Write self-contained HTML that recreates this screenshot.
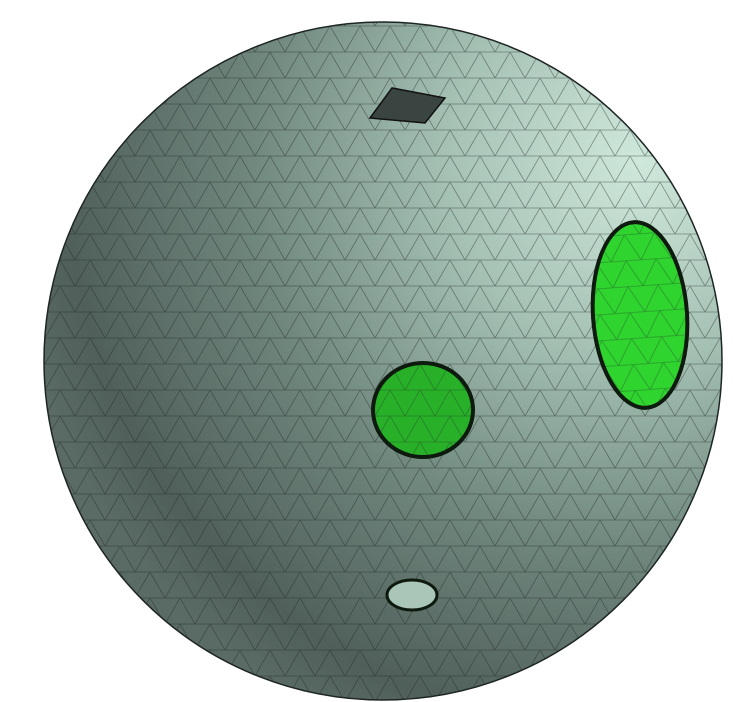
<!DOCTYPE html>
<html><head><meta charset="utf-8"><style>
html,body{margin:0;padding:0;background:#fff;width:745px;height:702px;overflow:hidden}
</style></head><body>
<svg width="745" height="702" viewBox="0 0 745 702">
<defs>
<radialGradient id="g" cx="640" cy="160" r="640" gradientUnits="userSpaceOnUse">
<stop offset="0" stop-color="#cfe8dc"/>
<stop offset="0.3" stop-color="#a6c2b5"/>
<stop offset="0.6" stop-color="#71897f"/>
<stop offset="0.9" stop-color="#505f5a"/>
<stop offset="1" stop-color="#5a6a64"/>
</radialGradient>
<pattern id="tri" width="30" height="26" patternUnits="userSpaceOnUse">
<path d="M0 0 L30 0 M0 0 L15 26 L30 0 M0 26 L30 26" stroke="#1c2522" stroke-width="0.8" fill="none"/>
</pattern>
<clipPath id="c"><circle cx="383" cy="361" r="339"/></clipPath>
</defs>
<circle cx="383" cy="361" r="339" fill="url(#g)"/>
<rect x="0" y="0" width="745" height="702" fill="url(#tri)" opacity="0.45" clip-path="url(#c)"/>
<circle cx="383" cy="361" r="339" fill="none" stroke="#1e2624" stroke-width="1.5"/>
<polygon points="370,118 392,88 445,98 425,123" fill="#3a4541" stroke="#111" stroke-width="1.5"/>
<ellipse cx="640" cy="315" rx="47" ry="93" transform="rotate(-4 640 315)" fill="#2fd42f" stroke="#0d1a0d" stroke-width="4"/>
<ellipse cx="640" cy="315" rx="47" ry="93" transform="rotate(-4 640 315)" fill="url(#tri)" opacity="0.35"/>
<ellipse cx="423" cy="410" rx="50" ry="47" fill="#28b028" stroke="#0d1a0d" stroke-width="4"/>
<ellipse cx="423" cy="410" rx="50" ry="47" fill="url(#tri)" opacity="0.35"/>
<ellipse cx="412" cy="595" rx="25" ry="15" fill="#a9c6b9" stroke="#0d1a0d" stroke-width="3"/>
</svg>
</body></html>
